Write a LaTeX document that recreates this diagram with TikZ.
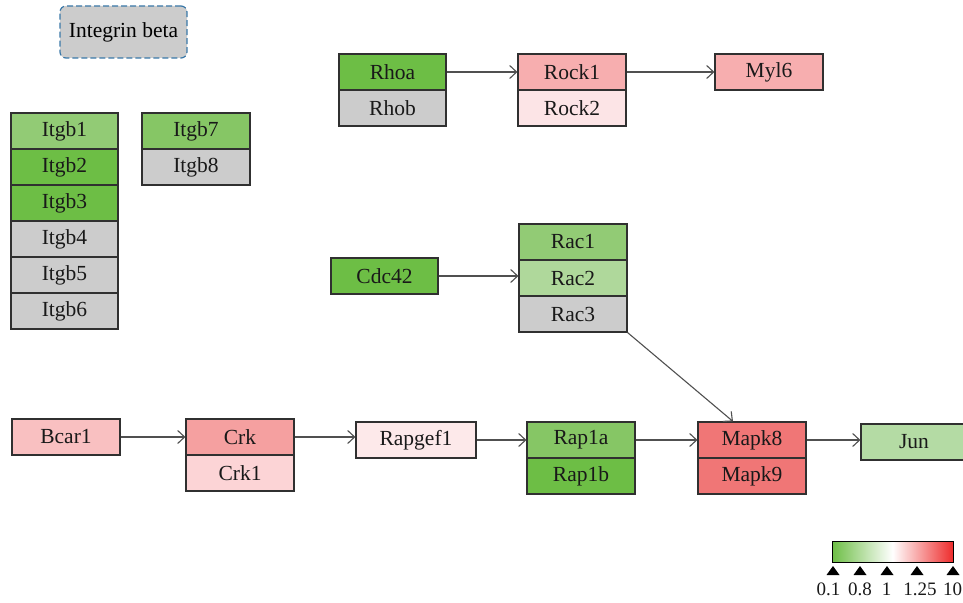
\documentclass[tikz,border=0pt]{standalone}
\usepackage{fontspec}
\setmainfont{Liberation Serif}
\usetikzlibrary{arrows.meta}
\definecolor{gA}{HTML}{6DBE45}
\definecolor{gB}{HTML}{92CB75}
\definecolor{gC}{HTML}{86C665}
\definecolor{gD}{HTML}{AFD89B}
\definecolor{gE}{HTML}{B4DBA4}
\definecolor{gy}{HTML}{CCCCCC}
\definecolor{rA}{HTML}{F7AEAF}
\definecolor{rB}{HTML}{FCE4E6}
\definecolor{rC}{HTML}{F9C0C1}
\definecolor{rD}{HTML}{F5A0A0}
\definecolor{rE}{HTML}{FCD4D6}
\definecolor{rF}{HTML}{FDE9EA}
\definecolor{rG}{HTML}{F07676}
\definecolor{bordc}{HTML}{303030}
\definecolor{arrc}{HTML}{505050}
\definecolor{dashc}{HTML}{3A78A8}
\definecolor{legG}{HTML}{6DBE45}
\definecolor{legR}{HTML}{EE2C2C}
\begin{document}
\begin{tikzpicture}[x=1pt,y=-1pt,
  gene/.style={draw=bordc, line width=1.1pt, minimum width=107pt, minimum height=36pt,
    inner sep=0pt, font=\fontsize{21.5}{24}\selectfont, text=black!90},
  conn/.style={draw=arrc, line width=1.1pt, -{Straight Barb[length=7pt,width=13pt]}},
  tri/.style={fill=black, draw=none}]
\useasboundingbox (0,0) rectangle (963,602);
\node[draw=dashc, dash pattern=on 6pt off 3pt, line width=1.2pt, fill=gy, rounded corners=6pt,
  minimum width=127pt, minimum height=52pt, inner sep=0pt,
  font=\fontsize{21.5}{24}\selectfont] (ib) at (123.5,32) {Integrin beta};
% integrin columns
\node[gene, fill=gB] (itgb1) at (64.5,131) {Itgb1};
\node[gene, fill=gA] (itgb2) at (64.5,167) {Itgb2};
\node[gene, fill=gA] (itgb3) at (64.5,203) {Itgb3};
\node[gene, fill=gy] (itgb4) at (64.5,239) {Itgb4};
\node[gene, fill=gy] (itgb5) at (64.5,275) {Itgb5};
\node[gene, fill=gy] (itgb6) at (64.5,311) {Itgb6};
\node[gene, fill=gC, minimum width=108pt] (itgb7) at (196,131) {Itgb7};
\node[gene, fill=gy, minimum width=108pt] (itgb8) at (196,167) {Itgb8};
% Rho branch
\node[gene, fill=gA] (rhoa) at (392.5,72) {Rhoa};
\node[gene, fill=gy] (rhob) at (392.5,108) {Rhob};
\node[gene, fill=rA, minimum width=108pt] (rock1) at (572,72) {Rock1};
\node[gene, fill=rB, minimum width=108pt] (rock2) at (572,108) {Rock2};
\node[gene, fill=rA, minimum width=108pt] (myl6) at (769,72) {Myl6};
% Rac branch
\node[gene, fill=gA] (cdc42) at (384.5,276) {Cdc42};
\node[gene, fill=gB, minimum width=108pt] (rac1) at (573,242) {Rac1};
\node[gene, fill=gD, minimum width=108pt] (rac2) at (573,278) {Rac2};
\node[gene, fill=gy, minimum width=108pt] (rac3) at (573,314) {Rac3};
% bottom row
\node[gene, fill=rC, minimum width=108pt] (bcar1) at (66,437) {Bcar1};
\node[gene, fill=rD, minimum width=108pt] (crk) at (240,437) {Crk};
\node[gene, fill=rE, minimum width=108pt] (crk1) at (240,473) {Crk1};
\node[gene, fill=rF, minimum width=120pt] (rapgef1) at (416,440) {Rapgef1};
\node[gene, fill=gC, minimum width=108pt] (rap1a) at (581,440) {Rap1a};
\node[gene, fill=gA, minimum width=108pt] (rap1b) at (581,476) {Rap1b};
\node[gene, fill=rG, minimum width=108pt] (mapk8) at (752,440) {Mapk8};
\node[gene, fill=rG, minimum width=108pt] (mapk9) at (752,476) {Mapk9};
\node[gene, fill=gE, minimum width=106pt] (jun) at (914,442) {Jun};
% connectors
\draw[conn] (rhoa.east) -- (rock1.west);
\draw[conn] (rock1.east) -- (myl6.west);
\draw[conn] (cdc42.east) -- (cdc42.east -| rac2.west);
\draw[conn] (bcar1.east) -- (crk.west);
\draw[conn] (crk.east) -- (crk.east -| rapgef1.west);
\draw[conn] (rapgef1.east) -- (rap1a.west);
\draw[conn] (rap1a.east) -- (mapk8.west);
\draw[conn] (mapk8.east) -- (mapk8.east -| jun.west);
\coordinate (mapktop) at ([xshift=-19pt]mapk8.north);
\draw[conn] (rac3.south east) -- (mapktop);
% legend
\shade[left color=legG, right color=legR, middle color=white] (832,541) rectangle (953,562);
\node[draw=black, line width=1pt, minimum width=121pt, minimum height=21pt, inner sep=0pt] (legbar) at (892.5,551.5) {};
\foreach \xx/\nm in {833/a, 860/b, 887/c, 917/d, 953/e}{
  \coordinate (t\nm) at (\xx,566);
  \fill[tri] (t\nm) -- ++(6.5,9) -- ++(-13,0) -- cycle;
}
\foreach \xx/\lab/\nm in {828.5/0.1/a, 860/0.8/b, 886.5/1/c, 920/1.25/d, 952.5/10/e}{
  \node[font=\fontsize{19}{21}\selectfont, inner sep=0pt, text=black!90] (l\nm) at (\xx,589) {\lab};
}
\end{tikzpicture}
\end{document}
